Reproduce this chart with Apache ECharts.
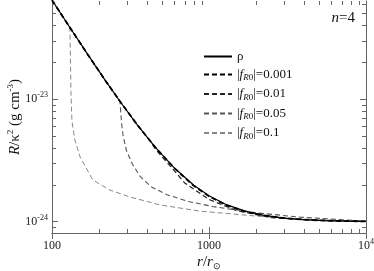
<!DOCTYPE html>
<html><head><meta charset="utf-8">
<script src="https://cdn.jsdelivr.net/npm/echarts@6/dist/echarts.min.js"></script>
<style>html,body{margin:0;padding:0;background:#fff}#c{width:374px;height:271px}</style>
</head><body><div id="c"></div>
<script>
// ---- data ----
const seriesNames = ['ρ', '0.001', '0.01', '0.05', '0.1'];

const rhoR = [100,130,170,220,270,350,450,600,800,1000,1300,1700,2200,3000,4000,5500,7500,10000];
const rhoV = [6.4e-23,3.83e-23,2.28e-23,1.40e-23,9.64e-24,6.14e-24,4.11e-24,2.75e-24,1.98e-24,1.63e-24,1.37e-24,1.22e-24,1.13e-24,1.07e-24,1.04e-24,1.02e-24,1.011e-24,1.007e-24];

const f001R = [100,130,170,220,270,350,450,600,800,1000,1300,1700,2200,3000,4000,5500,7500,10000];
const f001V = [6.4e-23,3.83e-23,2.28e-23,1.40e-23,9.64e-24,6.14e-24,4.11e-24,2.74e-24,1.96e-24,1.61e-24,1.36e-24,1.21e-24,1.13e-24,1.07e-24,1.04e-24,1.02e-24,1.011e-24,1.007e-24];

const f01R = [100,130,170,220,270,350,430,450,500,580,700,1000,1500,2500,4000,6000,10000];
const f01V = [6.4e-23,3.83e-23,2.28e-23,1.40e-23,9.64e-24,6.14e-24,4.41e-24,4.0e-24,3.4e-24,2.75e-24,2.07e-24,1.52e-24,1.23e-24,1.08e-24,1.04e-24,1.016e-24,1.007e-24];

const f05R = [100,130,170,220,271,274,278,284,298,325,365,430,540,740,1092,2020,3800,10000];
const f05V = [6.4e-23,3.83e-23,2.28e-23,1.40e-23,9.64e-24,7.8e-24,6.2e-24,5.0e-24,3.8e-24,2.95e-24,2.33e-24,1.92e-24,1.66e-24,1.46e-24,1.32e-24,1.18e-24,1.09e-24,1.008e-24];

const f1R = [100,115,130,131,132,134,140,151,182,234,314,488,876,2020,3800,10000];
const f1V = [6.4e-23,4.86e-23,3.9e-23,2.2e-23,1.15e-23,6.6e-24,4.6e-24,3.37e-24,2.19e-24,1.81e-24,1.59e-24,1.37e-24,1.22e-24,1.11e-24,1.05e-24,1.008e-24];

const xMinorTicks = [200,300,400,500,600,700,800,900,2000,3000,4000,5000,6000,7000,8000,9000];
const yMinorTicks = [9e-25,2e-24,3e-24,4e-24,5e-24,6e-24,7e-24,8e-24,9e-24,2e-23,3e-23,4e-23,5e-23,6e-23];

const xMin = 100, xMax = 10000;
const yMin = 8.09e-25, yMax = 6.3e-23;

// ---- chart ----
const FONT = 'Liberation Serif';
const AX = '#666';
const pairs = (r, v) => r.map((x, i) => [x, v[i]]);

const lineStyles = [
  {color:'#000', width:1.2, type:'solid'},
  {color:'#000', width:1.8, type:[5,3]},
  {color:'#222', width:1.2, type:[5,3]},
  {color:'#555', width:1.1, type:[5,3]},
  {color:'#888', width:1.0, type:[5,3]}
];
const dataSets = [pairs(rhoR,rhoV), pairs(f001R,f001V), pairs(f01R,f01V), pairs(f05R,f05V), pairs(f1R,f1V)];

const lineSeries = seriesNames.map((n, i) => ({
  name: n, type: 'line', data: dataSets[i], symbol: 'none', showSymbol: false,
  smooth: false, lineStyle: lineStyles[i], itemStyle: {color: lineStyles[i].color},
  z: 10 - i, animation: false
}));

function tickSeries(vals, isX, len) {
  return {
    type: 'custom', silent: true, animation: false, clip: false, z: 20,
    data: vals.map(v => isX ? [v, 1e-24] : [1000, v]),
    renderItem(params, api) {
      const cs = params.coordSys;
      const p = api.coord([api.value(0), api.value(1)]);
      const st = {stroke: AX, lineWidth: 1};
      if (isX) {
        const x = Math.round(p[0]) + 0.5;
        return {type:'group', children:[
          {type:'line', shape:{x1:x, y1:cs.y+cs.height, x2:x, y2:cs.y+cs.height-len}, style:st},
          {type:'line', shape:{x1:x, y1:cs.y, x2:x, y2:cs.y+len}, style:st}
        ]};
      } else {
        const y = Math.round(p[1]) + 0.5;
        return {type:'group', children:[
          {type:'line', shape:{x1:cs.x, y1:y, x2:cs.x+len, y2:y}, style:st},
          {type:'line', shape:{x1:cs.x+cs.width, y1:y, x2:cs.x+cs.width-len, y2:y}, style:st}
        ]};
      }
    }
  };
}

const labelRich = {
  b: {fontFamily: FONT, fontSize: 12, color: '#222', lineHeight: 16},
  s: {fontFamily: FONT, fontSize: 8, color: '#222', lineHeight: 10, verticalAlign: 'top'}
};
const nameRich = {
  n: {fontFamily: FONT, fontSize: 15, color: '#111', lineHeight: 18},
  i: {fontFamily: FONT, fontSize: 15, fontStyle: 'italic', color: '#111', lineHeight: 18},
  sup: {fontFamily: FONT, fontSize: 9, color: '#111', lineHeight: 11, verticalAlign: 'top'},
  sub: {fontFamily: FONT, fontSize: 9, color: '#111', lineHeight: 11, verticalAlign: 'bottom'}
};

const chart = echarts.init(document.getElementById('c'), null, {renderer: 'canvas'});
chart.setOption({
  animation: false,
  backgroundColor: '#fff',
  grid: {left: 52, right: 8, top: 1, bottom: 38, containLabel: false, outerBoundsMode: 'none'},
  title: {
    text: '{i|n}{n|=4}', right: 14, top: 6,
    textStyle: {fontWeight: 'normal', rich: {
      i: {fontFamily: FONT, fontSize: 15, fontStyle: 'italic', fontWeight: 'normal', color: '#111'},
      n: {fontFamily: FONT, fontSize: 15, fontWeight: 'normal', color: '#111'}
    }}
  },
  legend: {
    data: seriesNames, orient: 'vertical', left: 198, top: 45,
    itemWidth: 28, itemHeight: 10, itemGap: 5, selectedMode: false,
    itemStyle: {opacity: 0},
    formatter: n => n === 'ρ' ? '{t|ρ}' : '{t||}{i|f}{si|R}{s|0}{t||=' + n + '}',
    textStyle: {rich: {
      t: {fontFamily: FONT, fontSize: 13, color: '#111', lineHeight: 16},
      i: {fontFamily: FONT, fontSize: 13, fontStyle: 'italic', color: '#111', lineHeight: 16},
      si: {fontFamily: FONT, fontSize: 9, fontStyle: 'italic', color: '#111', lineHeight: 10, verticalAlign: 'bottom'},
      s: {fontFamily: FONT, fontSize: 9, color: '#111', lineHeight: 10, verticalAlign: 'bottom'}
    }}
  },
  xAxis: [
    {type: 'log', min: xMin, max: xMax, logBase: 10, position: 'bottom',
     name: '{i|r}{n|/}{i|r}{sub|⊙}', nameLocation: 'middle', nameGap: 20, nameMoveOverlap: false,
     nameTextStyle: {rich: nameRich},
     axisLine: {lineStyle: {color: AX, width: 1}},
     axisTick: {inside: true, length: 6, lineStyle: {color: AX}},
     splitLine: {show: false}, minorTick: {show: false},
     axisLabel: {margin: 5, showMinLabel: true, showMaxLabel: true, rich: labelRich,
       formatter: v => {const e = Math.round(Math.log10(v)); return e >= 4 ? '{b|10}{s|' + e + '}' : '{b|' + Math.round(v) + '}';}}
    },
    {type: 'log', min: xMin, max: xMax, logBase: 10, position: 'top',
     axisLine: {lineStyle: {color: AX, width: 1}},
     axisTick: {inside: true, length: 6, lineStyle: {color: AX}},
     splitLine: {show: false}, axisLabel: {show: false}}
  ],
  yAxis: [
    {type: 'log', min: yMin, max: yMax, logBase: 10, position: 'left',
     name: '{i|R}{n|/κ}{sup|2}{n| (g cm}{sup|-3}{n|)}', nameLocation: 'middle', nameGap: 28, nameRotate: 90, nameMoveOverlap: false,
     nameTextStyle: {rich: nameRich},
     axisLine: {lineStyle: {color: AX, width: 1}},
     axisTick: {inside: true, length: 6, lineStyle: {color: AX}},
     splitLine: {show: false},
     axisLabel: {margin: 4, showMinLabel: false, showMaxLabel: false, rich: labelRich,
       formatter: v => '{b|10}{s|' + Math.round(Math.log10(v)) + '}'}
    },
    {type: 'log', min: yMin, max: yMax, logBase: 10, position: 'right',
     axisLine: {lineStyle: {color: AX, width: 1}},
     axisTick: {inside: true, length: 6, lineStyle: {color: AX}},
     splitLine: {show: false}, axisLabel: {show: false}}
  ],
  series: lineSeries.concat([tickSeries(xMinorTicks, true, 4), tickSeries(yMinorTicks, false, 4)])
});
</script>
</body></html>
